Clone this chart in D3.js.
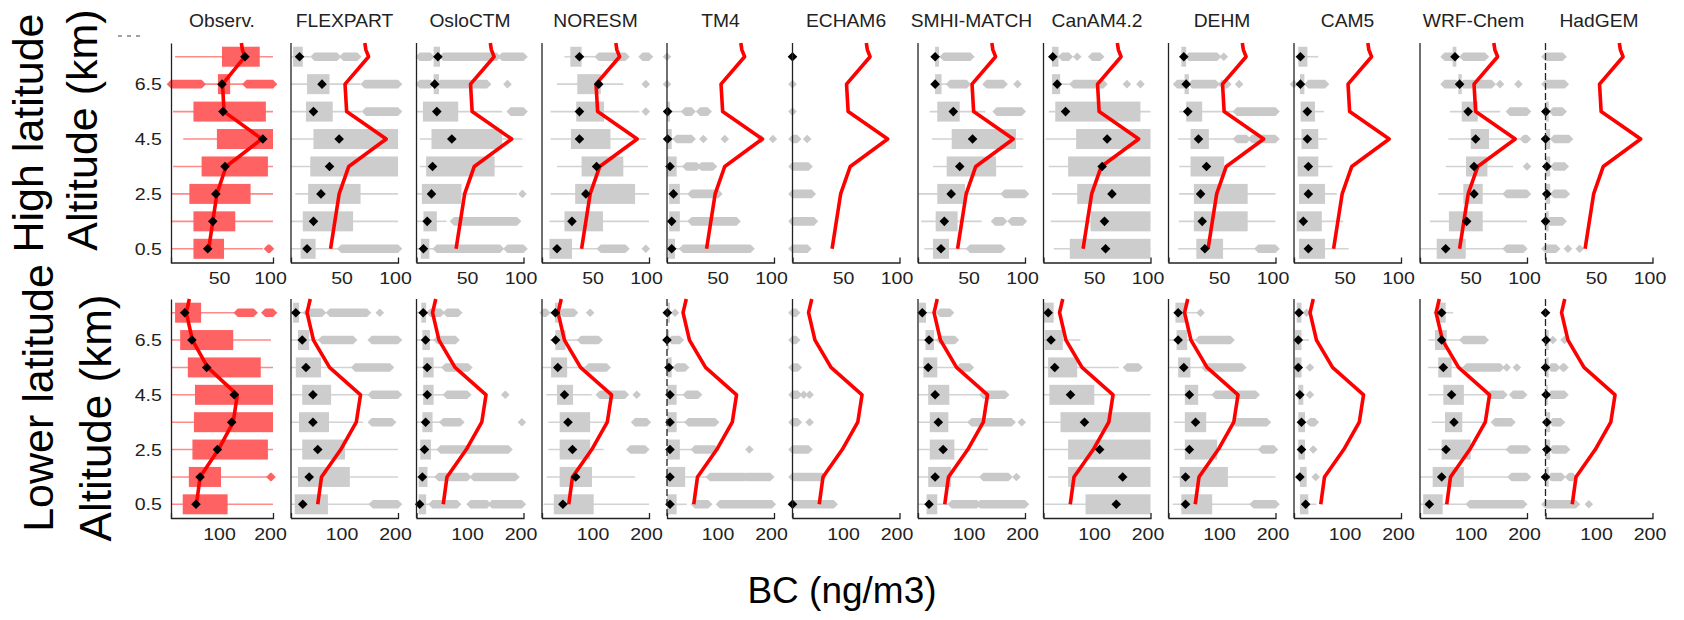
<!DOCTYPE html>
<html>
<head>
<meta charset="utf-8">
<script src="https://cdn.jsdelivr.net/npm/d3@7"></script>
<style>
  body { margin: 0; background: #fff; }
  svg { display: block; font-family: "Liberation Sans", Arial, sans-serif; }
</style>
</head>
<body>
<script>
// altitude levels, top first (km)
var levels = [7.5, 6.5, 5.5, 4.5, 3.5, 2.5, 1.5, 0.5];
var panelNames = ['Observ.', 'FLEXPART', 'OsloCTM', 'NORESM', 'TM4', 'ECHAM6',
  'SMHI-MATCH', 'CanAM4.2', 'DEHM', 'CAM5', 'WRF-Chem', 'HadGEM'];
var rowNames = ['High latitude', 'Lower latitude'];
var xMax = [100, 200];
var xTicks = [[50, 100], [100, 200]];
var yTicks = [0.5, 2.5, 4.5, 6.5];

// observed mean profile (red line), same in every panel
var profAlt = [8, 7.75, 7.5, 6.5, 5.5, 4.5, 3.5, 2.5, 1.5, 0.5];
var hiProfile = [69, 70, 72.5, 50.5, 52, 89, 54, 45, 41, 37];
var loProfile = [36, 33, 30, 42, 72, 130, 122, 93, 57, 50];

// each level: [whisker low, q1, q3, whisker high, mean, outlier clusters [from, to]]
var hiObs = [
  [4, 50, 87, 100, 72.5, []],
  [32, 46, 58, 72, 50, [[-2, 30], [74, 100]]],
  [2, 22, 93, 100, 51, []],
  [12, 45, 100, 100, 90, []],
  [2, 30, 95, 100, 53, []],
  [0, 18, 78, 100, 44, []],
  [0, 22, 63, 100, 41, []],
  [0, 22, 52, 90, 36, [[95, 97]]]
];
var hiFLEXPART = [
  [0, 2, 11, 18, 8, [[22, 43], [49, 62]]],
  [0, 15, 36, 65, 29, [[69, 100]]],
  [0, 14, 39, 66, 21, [[70, 100]]],
  [0, 21, 100, 100, 45, []],
  [0, 18, 100, 100, 36, []],
  [4, 16, 65, 100, 28, []],
  [0, 11, 58, 100, 21, []],
  [0, 9, 23, 44, 15, [[47, 100]]]
];
var hiOsloCTM = [
  [15, 16, 22, 22, 20, [[3, 13], [25, 75], [80, 100]]],
  [15, 16, 21, 21, 17, [[3, 13], [22, 66], [85, 85]]],
  [0, 6, 39, 80, 19, [[88, 100]]],
  [3, 14, 80, 99, 33, []],
  [3, 9, 73, 99, 15, []],
  [0, 5, 42, 94, 14, [[99, 99]]],
  [0, 6.5, 19, 28, 10, [[35, 94]]],
  [0, 4, 12, 17, 6.5, [[19, 78], [85, 100]]]
];
var hiNORESM = [
  [21, 26.5, 37, 50, 35, [[53, 78], [94, 100]]],
  [14, 33, 55, 76, 53, [[97, 97]]],
  [8, 32, 58, 91, 35, [[97, 97]]],
  [8, 27, 64, 97, 35, []],
  [14, 37, 76, 99, 51, []],
  [8, 31, 87, 100, 41, []],
  [7, 21, 57, 100, 28, []],
  [0, 7, 28, 52, 14, [[55, 78], [97, 97]]]
];
var hiTM4 = [
  [0, 0, 0, 0, null, [[0, 0]]],
  [0, 0, 0, 0, null, [[0, 0]]],
  [0, 0, 2.8, 15, 0.6, [[17, 23], [31, 38]]],
  [0, 0, 4.4, 8, 0.6, [[9, 23], [34, 34], [54, 54], [88, 88], [99, 99]]],
  [0, 0, 9, 16, 2.8, [[18, 28], [32, 43]]],
  [0, 2, 12, 22, 6, [[23, 48]]],
  [0, 2, 12, 22, 4.4, [[23, 65]]],
  [0, 1.2, 7.5, 13, 4.4, [[15, 78]]]
];
var hiECHAM6 = [
  [0, 0, 0, 0, 0, []],
  [0, 0, 0, 0, null, [[0, 0]]],
  [0, 0, 0, 0, null, [[0, 0]]],
  [0, 0, 0, 0, null, [[0, 4.4], [13.7, 13.7]]],
  [0, 0, 0, 0, null, [[0, 15]]],
  [0, 0, 0, 0, null, [[0, 18]]],
  [0, 0, 0, 0, null, [[0, 20]]],
  [0, 0, 0, 0, null, [[0, 14]]]
];
var hiSMHI = [
  [16, 16, 19.6, 22, 16, [[24, 49]]],
  [16, 16, 22, 28, 16, [[30, 45.5], [64, 80], [93, 93]]],
  [11, 18, 39, 63, 33, [[73.5, 97]]],
  [13, 31.5, 91.6, 98.4, 51, []],
  [14, 26.8, 73, 98, 39, []],
  [0, 18, 44, 78, 31, [[81, 100]]],
  [3, 16.5, 37, 59.5, 24.6, [[72, 79.6], [87.5, 98]]],
  [6, 14, 29, 46, 21.5, [[48.6, 78]]]
];
var hiCanAM = [
  [8, 8, 14, 15, 8.7, [[17.4, 23.7], [31.5, 31.5], [45.5, 53]]],
  [8, 8, 15.6, 26, 12.8, [[28, 56], [78, 78], [90.6, 90.6]]],
  [5, 11, 90.6, 100, 20.6, []],
  [2, 30.5, 100, 100, 59.5, []],
  [5, 23, 100, 100, 54.8, []],
  [8, 31.5, 100, 100, 64, []],
  [6.7, 44, 100, 100, 57, []],
  [9.6, 24.6, 100, 100, 58, []]
];
var hiDEHM = [
  [12, 12, 16.5, 18, 14.3, [[19, 45.5], [51.7, 51.7]]],
  [15, 15, 19, 20, 16.5, [[8, 14.3], [22, 44], [50, 55], [66, 66]]],
  [10, 16.5, 31.5, 62, 18, [[64, 100]]],
  [9, 20.6, 37.7, 62, 28, [[64, 73], [78, 100]]],
  [10, 20.6, 52, 90.6, 35.5, []],
  [10, 23.7, 74, 100, 30, []],
  [9.6, 23.7, 74, 100, 31.5, []],
  [9, 26, 51, 82, 34, [[84, 101]]]
];
var hiCAM5 = [
  [4, 4, 12.5, 22.7, 6, []],
  [5.6, 5.6, 9.7, 12, 6, [[0, 0], [13.4, 29]]],
  [6.2, 6.2, 19.6, 28, 12.5, []],
  [0, 7, 22.7, 31, 12.5, []],
  [3.4, 3.4, 22.7, 36, 13.4, []],
  [4.7, 4.7, 29, 40, 13.4, []],
  [2.5, 2.5, 26, 46, 8.7, []],
  [4.7, 4.7, 29, 51, 13.4, []]
];
var hiWRF = [
  [30.5, 30.5, 34, 34, 32.7, [[23, 31], [40.5, 60.7]]],
  [35.8, 35.8, 39, 39, 37, [[23, 34], [40.5, 67], [74.8, 74.8], [92, 92]]],
  [28, 39, 54, 75, 45, [[84, 100]]],
  [26.5, 47.4, 64.5, 93.5, 52, [[97, 100]]],
  [24, 43, 63, 87, 50.5, [[100, 100]]],
  [17, 40.5, 58.6, 79, 50.5, [[81, 100]]],
  [9.3, 27, 58.6, 100, 43.6, []],
  [0, 15.6, 42.7, 79.4, 24, [[81, 96.6]]]
];
var hiHadGEM = [
  [0, 0, 0, 0, null, [[0, 16]]],
  [0, 0, 0, 0, null, [[0, 18]]],
  [0, 0, 3, 3, 0.3, [[7, 16]]],
  [0, 0, 4.4, 4.4, 0, [[8, 22]]],
  [0, 0, 4.4, 4.4, 1.2, [[8, 18]]],
  [0, 0, 4.4, 4.4, 1.2, [[8, 19]]],
  [0, 0, 3, 3, 0, [[4, 16]]],
  [0, 0, 0, 0, null, [[0, 10], [21, 21], [32, 32]]]
];

var loObs = [
  [0, 8, 59, 128, 27, [[131, 162], [185, 200]]],
  [0, 18, 122, 196, 41, []],
  [0, 33, 176, 200, 70, []],
  [0, 47, 200, 200, 124, []],
  [0, 45, 200, 200, 119, []],
  [0, 42, 190, 200, 91, []],
  [0, 35, 98, 190, 57, [[195, 197]]],
  [0, 23, 111, 200, 49, []]
];
var loFLEXPART = [
  [0, 4, 15, 28, 9, [[30, 58], [73, 142], [166, 166]]],
  [0, 13, 34, 56, 21, [[58, 116], [151, 200]]],
  [0, 9, 56, 118, 28, [[120, 185]]],
  [0, 21, 75, 148, 41, [[151, 200]]],
  [0, 15, 71, 135, 41, [[151, 189]]],
  [0, 21, 101, 200, 50, []],
  [0, 13, 110, 200, 34, []],
  [0, 7, 69, 150, 22, [[153, 200]]]
];
var loOsloCTM = [
  [0, 9, 18, 24, 12.5, [[26, 45], [57, 78]]],
  [0, 11, 25, 36, 17, [[39, 73]]],
  [0, 12.5, 32, 50, 20, [[54, 97]]],
  [0, 12.5, 32, 54, 20, [[57, 95], [166, 166]]],
  [0, 11, 30, 47, 17, [[50, 82], [197, 197]]],
  [0, 7, 27, 42, 15, [[45, 172]]],
  [0, 4, 20.5, 38, 11, [[41, 95], [107, 185]]],
  [0, 4, 18, 27, 6, [[30, 76], [101, 132], [141, 197]]]
];
var loNORESM = [
  [10, 24, 32, 37, 25, [[3, 8], [39, 60], [90, 90]]],
  [15, 25, 44, 70, 25.5, [[73, 106]]],
  [0, 17, 47, 85, 29.5, [[87, 121]]],
  [8, 28, 58, 93, 42, [[108, 155], [177, 177]]],
  [12, 33, 90, 125, 48.6, [[174, 196]]],
  [12, 33, 90, 115, 57, [[165, 193]]],
  [9, 33, 93.5, 174, 63, []],
  [3, 22, 96.6, 200, 39, []]
];
var loTM4 = [
  [0, 0, 5.6, 5.6, 0.6, [[15, 15]]],
  [0, 0, 4, 4, 0, [[8.7, 24]]],
  [0, 0, 8.7, 16, 3.7, [[18, 34]]],
  [0, 0, 18, 35, 5.6, [[37, 58]]],
  [0, 0, 18, 38, 5.6, [[40, 90]]],
  [0, 0, 24, 50, 5.6, [[52, 90], [154, 154]]],
  [0, 0, 34, 78, 5.6, [[80, 146], [149, 193]]],
  [0, 0, 18, 37, 5.6, [[52, 77], [99, 196]]]
];
var loECHAM6 = [
  [0, 0, 0, 0, null, [[0, 7]]],
  [0, 0, 0, 0, null, [[0, 7]]],
  [0, 0, 0, 0, null, [[0, 10]]],
  [0, 0, 0, 0, null, [[0, 10], [21, 21], [32, 32]]],
  [0, 0, 0, 0, null, [[0, 10], [32, 32]]],
  [0, 0, 0, 0, null, [[0, 30]]],
  [0, 0, 0, 0, null, [[0, 56]]],
  [0, 0, 0, 0, 0, [[2, 77]]]
];
var loSMHI = [
  [0, 2, 15, 38, 8, [[41, 60]]],
  [0, 14, 30, 38, 20.6, [[41, 69]]],
  [0, 10, 36, 75, 19, [[78.5, 97]]],
  [0, 19, 58.5, 120, 32, [[122, 163]]],
  [0, 22, 56.7, 98, 38, [[100, 175], [194, 194]]],
  [0, 22, 68, 131, 47, []],
  [0, 19, 62, 120, 32, [[122, 169], [184, 184]]],
  [0, 16, 36, 60, 20.6, [[63, 110], [116, 200]]]
];
var loCanAM = [
  [0, 0, 19, 19, 8.7, []],
  [0, 2.5, 36, 69, 14, []],
  [0, 8.7, 63, 141, 21, [[156, 178]]],
  [0, 11, 95, 200, 50.5, []],
  [0, 31.8, 200, 200, 76.6, []],
  [0, 46, 200, 200, 105, []],
  [9, 46, 200, 200, 148, []],
  [2.5, 78.5, 200, 200, 136, []]
];
var loDEHM = [
  [13, 13, 33, 58, 18, [[60, 60]]],
  [0, 15, 35, 55, 18, [[57, 116]]],
  [0, 18, 41, 67, 28.6, [[69, 138]]],
  [0, 30.5, 55.5, 86, 39, [[88, 163]]],
  [10, 30.5, 70.5, 123, 50.5, [[125, 184]]],
  [10, 30.5, 91, 173, 39, [[175, 197]]],
  [8, 21, 111, 200, 31.8, []],
  [8, 24, 81.7, 157, 31.8, [[159, 200]]]
];
var loCAM5 = [
  [5, 5, 14, 14, 9.3, [[23.7, 23.7]]],
  [2, 2, 14, 28, 8, []],
  [2, 2, 14, 14, 8, [[29.8, 29.8]]],
  [8, 8, 17.4, 17.4, 11, [[29.8, 29.8]]],
  [8, 8, 20.6, 20.6, 14, [[30, 39]]],
  [8, 8, 20.6, 20.6, 14, [[36, 36]]],
  [11, 11, 23.7, 23.7, 11, [[40.6, 40.6]]],
  [11, 11, 26.8, 42, 21.8, []]
];
var loWRF = [
  [25, 34, 48, 62, 40.5, []],
  [15.6, 28, 50, 79, 40.5, [[81, 121]]],
  [15, 34, 59, 85, 43.6, [[87, 150], [162, 162], [181, 181]]],
  [15.6, 43.6, 82, 129, 59, [[131, 156], [174, 193]]],
  [21.8, 46.7, 79, 122, 63.6, [[140, 171]]],
  [15, 40.5, 94.8, 166, 48.6, [[168, 200]]],
  [-2, 23.7, 82, 169, 40.5, [[171, 200]]],
  [-2, 6, 42.4, 91, 17.4, [[93, 193]]]
];
var loHadGEM = [
  [0, 0, 0, 0, 0, []],
  [0, 0, 6, 6, 1.2, [[13.7, 13.7], [35.5, 35.5]]],
  [0, 0, 6, 6, 0, [[10.6, 20], [32, 35.5]]],
  [0, 0, 4.4, 4.4, 1.2, [[10.6, 35.5]]],
  [0, 0, 8.7, 8.7, 2.5, [[13.7, 29]]],
  [0, 0, 8.7, 8.7, 2.5, [[13.7, 38.6]]],
  [0, 0, 6, 6, 0, [[10.6, 30], [44, 51]]],
  [0, 0, 0, 0, null, [[0, 57], [81, 81]]]
];

var rows = [
  [hiObs, hiFLEXPART, hiOsloCTM, hiNORESM, hiTM4, hiECHAM6, hiSMHI, hiCanAM, hiDEHM, hiCAM5, hiWRF, hiHadGEM],
  [loObs, loFLEXPART, loOsloCTM, loNORESM, loTM4, loECHAM6, loSMHI, loCanAM, loDEHM, loCAM5, loWRF, loHadGEM]
];
var profiles = [hiProfile, loProfile];
// panels whose y axis is drawn dashed, per row
var dashedAxis = [['HadGEM'], ['TM4', 'HadGEM']];

// layout
var W = 1684, H = 620;
var panelLeft = [171, 291, 416.5, 542, 667, 792.5, 918, 1043.5, 1168.5, 1294, 1420, 1545.5];
var rowTop = [43, 299], rowBottom = [262.5, 518];
var FONT = '"Liberation Sans", Arial, sans-serif';

var svg = d3.select('body').append('svg').attr('width', W).attr('height', H);
svg.append('rect').attr('width', W).attr('height', H).attr('fill', '#fff');

function blob(x0, x1, yc, r) {
  return 'M' + (x0 - r) + ',' + yc + 'L' + x0 + ',' + (yc - r) + 'L' + x1 + ',' + (yc - r) +
    'L' + (x1 + r) + ',' + yc + 'L' + x1 + ',' + (yc + r) + 'L' + x0 + ',' + (yc + r) + 'Z';
}

function drawPanel(row, i) {
  var data = rows[row][i];
  var obs = i === 0;
  var left = panelLeft[i], w = obs ? 102 : 107;
  var x = d3.scaleLinear().domain([0, xMax[row]]).range([left, left + w]).clamp(true);
  var y = d3.scaleLinear().domain([0, 8]).range([rowBottom[row], rowTop[row]]);
  var g = svg.append('g');
  var boxFill = obs ? '#ff6262' : '#cdcdcd';
  var whisk = obs ? '#ff8a8a' : '#d2d2d2';
  var outFill = obs ? '#ff6262' : '#c9c9c9';

  data.forEach(function (d, k) {
    var yc = y(levels[k]);
    if (d[3] > d[0]) {
      g.append('line').attr('x1', x(d[0])).attr('x2', x(d[3]))
        .attr('y1', yc).attr('y2', yc)
        .attr('stroke', whisk).attr('stroke-width', 1.6);
    }
    if (d[2] > d[1]) {
      g.append('rect').attr('x', x(d[1])).attr('y', yc - 10)
        .attr('width', x(d[2]) - x(d[1])).attr('height', 20)
        .attr('fill', boxFill);
    }
    d[5].forEach(function (o) {
      g.append('path').attr('d', blob(x(o[0]), x(o[1]), yc, 4.3)).attr('fill', outFill);
    });
  });

  // observed mean profile
  var line = d3.line()
    .x(function (v) { return x(v); })
    .y(function (v, k) { return y(profAlt[k]); });
  g.append('path').attr('d', line(profiles[row]))
    .attr('fill', 'none').attr('stroke', '#ff0000').attr('stroke-width', 3.6)
    .attr('stroke-linejoin', 'round');

  // means
  data.forEach(function (d, k) {
    if (d[4] === null) return;
    var cx = x(d[4]), cy = y(levels[k]), r = 4.8;
    g.append('path')
      .attr('d', 'M' + (cx - r) + ',' + cy + 'L' + cx + ',' + (cy - r) + 'L' + (cx + r) + ',' + cy + 'L' + cx + ',' + (cy + r) + 'Z')
      .attr('fill', '#000');
  });

  // x axis
  var ax = g.append('g').attr('transform', 'translate(0,' + rowBottom[row] + ')')
    .call(d3.axisBottom(x).tickValues(xTicks[row]).tickSizeInner(0).tickSizeOuter(-5).tickPadding(9.5));
  ax.select('.domain').attr('stroke', '#222').attr('stroke-width', 1.3);
  ax.selectAll('text').attr('font-size', 17).attr('fill', '#222').attr('font-family', FONT)
    .attr('transform', 'translate(-3,0) scale(1.15,1)');

  // y axis
  var dashed = dashedAxis[row].indexOf(panelNames[i]) >= 0;
  if (obs) {
    var ay = g.append('g').attr('transform', 'translate(' + left + ',0)')
      .call(d3.axisLeft(y).tickValues(yTicks).tickSizeInner(0).tickSizeOuter(0).tickPadding(8)
        .tickFormat(d3.format('.1f')));
    ay.select('.domain').attr('stroke', '#222').attr('stroke-width', 1.3);
    ay.selectAll('text').attr('font-size', 17).attr('fill', '#222').attr('font-family', FONT)
      .attr('transform', 'scale(1.15,1)');
  } else {
    g.append('line').attr('x1', left).attr('x2', left)
      .attr('y1', y(8)).attr('y2', y(0))
      .attr('stroke', '#222').attr('stroke-width', 1.3)
      .attr('stroke-dasharray', dashed ? '7,3' : null);
  }

  if (row === 0) {
    svg.append('text').attr('transform', 'translate(' + (left + w / 2) + ',27) scale(1.1,1)')
      .attr('text-anchor', 'middle').attr('font-size', 17.5).attr('fill', '#222')
      .text(panelNames[i]);
  }
}

for (var r = 0; r < 2; r++) {
  for (var i = 0; i < panelNames.length; i++) drawPanel(r, i);
}

// clipped remnant above the first y axis
svg.append('line').attr('x1', 118).attr('x2', 144).attr('y1', 36).attr('y2', 36)
  .attr('stroke', '#444').attr('stroke-width', 1.2).attr('stroke-dasharray', '4,5');

// row labels
function vlabel(txt, bx, cy, size) {
  svg.append('text').attr('transform', 'translate(' + bx + ',' + cy + ') rotate(-90)')
    .attr('text-anchor', 'middle').attr('font-size', size).attr('fill', '#000').text(txt);
}
vlabel(rowNames[0], 43, 133, 43);
vlabel('Altitude (km)', 97, 130, 43);
vlabel(rowNames[1], 53, 398, 43);
vlabel('Altitude (km)', 111, 418, 44);

svg.append('text').attr('x', 842).attr('y', 603).attr('text-anchor', 'middle')
  .attr('font-size', 37).attr('fill', '#000').text('BC (ng/m3)');
</script>
</body>
</html>
